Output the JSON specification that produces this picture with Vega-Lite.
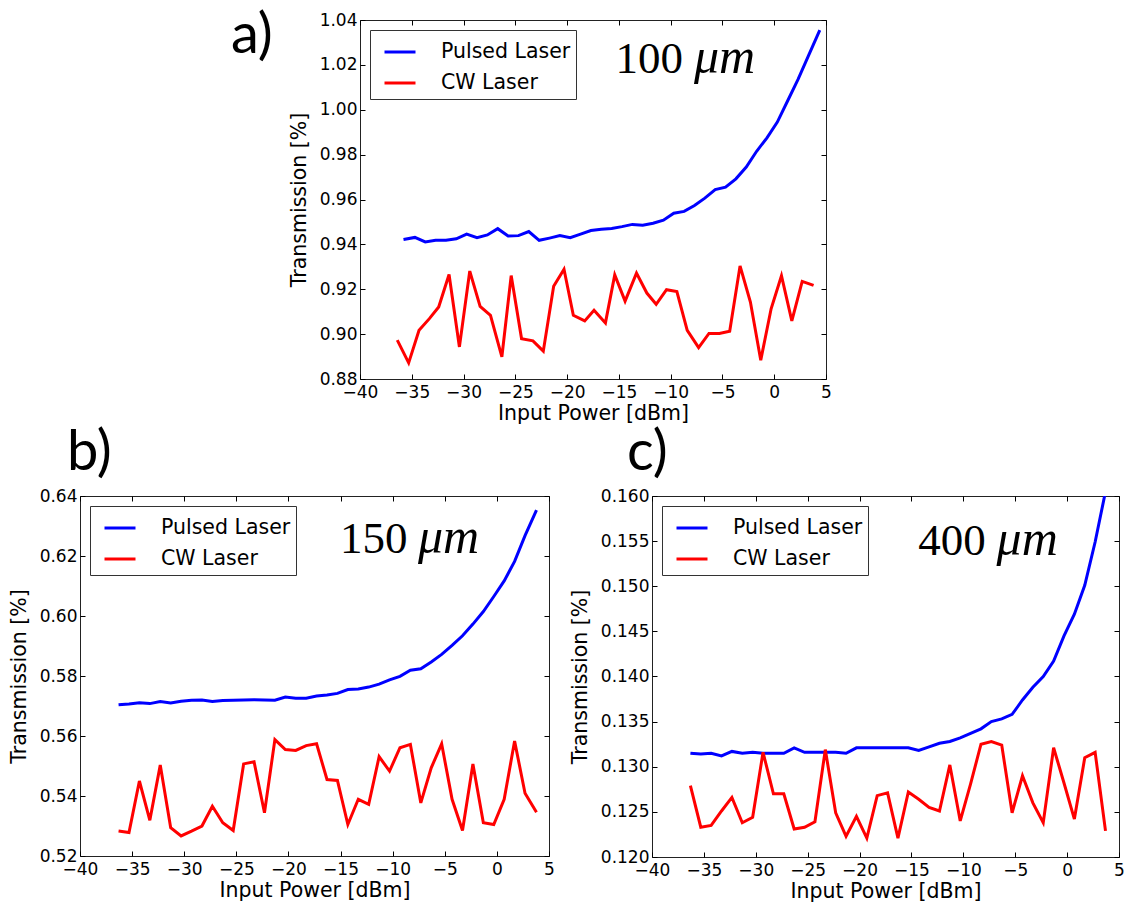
{
  "$schema": "https://vega.github.io/schema/vega-lite/v6.json",
  "padding": {"left": 8, "top": 7, "right": 0, "bottom": 0},
  "background": "white",
  "config": {
    "view": {"stroke": "#222", "strokeWidth": 1},
    "axis": {"labelFont": "DejaVu Sans", "labelFontSize": 17, "labelColor": "black", "titleFont": "DejaVu Sans", "titleFontSize": 20.5, "titleFontWeight": "normal", "titleColor": "black", "grid": false, "domain": false, "tickSize": -5, "tickColor": "black", "tickWidth": 1, "labelFlush": false, "labelOverlap": false},
    "legend": {"title": null, "orient": "none", "legendX": 10, "legendY": 10, "symbolType": "stroke", "symbolSize": 961, "symbolStrokeWidth": 3, "symbolOffset": 8, "labelFont": "DejaVu Sans", "labelFontSize": 20.5, "labelColor": "black", "labelOffset": 24, "padding": 5, "strokeColor": "#333", "fillColor": "white", "rowPadding": 3, "labelLimit": 400},
    "title": {"font": "Lato", "fontSize": 56, "fontWeight": "normal", "color": "black", "anchor": "start", "frame": "group", "baseline": "alphabetic"}
  },
  "resolve": {"scale": {"color": "independent"}, "legend": {"color": "independent"}},
  "datasets": {
    "a": [
      {"x": -35.8, "y": 0.9422, "laser": "Pulsed Laser"}, {"x": -34.7, "y": 0.9431, "laser": "Pulsed Laser"}, {"x": -33.7, "y": 0.9411, "laser": "Pulsed Laser"}, {"x": -32.7, "y": 0.9418, "laser": "Pulsed Laser"}, {"x": -31.7, "y": 0.9418, "laser": "Pulsed Laser"}, {"x": -30.7, "y": 0.9425, "laser": "Pulsed Laser"}, {"x": -29.7, "y": 0.9446, "laser": "Pulsed Laser"}, {"x": -28.7, "y": 0.943, "laser": "Pulsed Laser"}, {"x": -27.7, "y": 0.9442, "laser": "Pulsed Laser"}, {"x": -26.7, "y": 0.947, "laser": "Pulsed Laser"}, {"x": -25.7, "y": 0.9437, "laser": "Pulsed Laser"}, {"x": -24.7, "y": 0.9439, "laser": "Pulsed Laser"}, {"x": -23.7, "y": 0.9457, "laser": "Pulsed Laser"}, {"x": -22.7, "y": 0.9418, "laser": "Pulsed Laser"}, {"x": -21.7, "y": 0.9428, "laser": "Pulsed Laser"}, {"x": -20.7, "y": 0.9439, "laser": "Pulsed Laser"}, {"x": -19.7, "y": 0.943, "laser": "Pulsed Laser"}, {"x": -18.7, "y": 0.9446, "laser": "Pulsed Laser"}, {"x": -17.7, "y": 0.9462, "laser": "Pulsed Laser"}, {"x": -16.7, "y": 0.9467, "laser": "Pulsed Laser"}, {"x": -15.7, "y": 0.9471, "laser": "Pulsed Laser"}, {"x": -14.7, "y": 0.9479, "laser": "Pulsed Laser"}, {"x": -13.7, "y": 0.9489, "laser": "Pulsed Laser"}, {"x": -12.7, "y": 0.9485, "laser": "Pulsed Laser"}, {"x": -11.7, "y": 0.9494, "laser": "Pulsed Laser"}, {"x": -10.7, "y": 0.9508, "laser": "Pulsed Laser"}, {"x": -9.7, "y": 0.9539, "laser": "Pulsed Laser"}, {"x": -8.7, "y": 0.9547, "laser": "Pulsed Laser"}, {"x": -7.7, "y": 0.9573, "laser": "Pulsed Laser"}, {"x": -6.7, "y": 0.9606, "laser": "Pulsed Laser"}, {"x": -5.7, "y": 0.9644, "laser": "Pulsed Laser"}, {"x": -4.7, "y": 0.9655, "laser": "Pulsed Laser"}, {"x": -3.7, "y": 0.9692, "laser": "Pulsed Laser"}, {"x": -2.7, "y": 0.9745, "laser": "Pulsed Laser"}, {"x": -1.7, "y": 0.9815, "laser": "Pulsed Laser"}, {"x": -0.7, "y": 0.9875, "laser": "Pulsed Laser"}, {"x": 0.3, "y": 0.9945, "laser": "Pulsed Laser"}, {"x": 1.3, "y": 1.004, "laser": "Pulsed Laser"}, {"x": 2.3, "y": 1.0135, "laser": "Pulsed Laser"}, {"x": 3.3, "y": 1.024, "laser": "Pulsed Laser"}, {"x": 4.4, "y": 1.0355, "laser": "Pulsed Laser"},
      {"x": -36.4, "y": 0.8973, "laser": "CW Laser"}, {"x": -35.3, "y": 0.8872, "laser": "CW Laser"}, {"x": -34.3, "y": 0.9017, "laser": "CW Laser"}, {"x": -33.3, "y": 0.9069, "laser": "CW Laser"}, {"x": -32.4, "y": 0.9121, "laser": "CW Laser"}, {"x": -31.4, "y": 0.9266, "laser": "CW Laser"}, {"x": -30.4, "y": 0.8943, "laser": "CW Laser"}, {"x": -29.4, "y": 0.9281, "laser": "CW Laser"}, {"x": -28.4, "y": 0.9124, "laser": "CW Laser"}, {"x": -27.4, "y": 0.9084, "laser": "CW Laser"}, {"x": -26.3, "y": 0.8899, "laser": "CW Laser"}, {"x": -25.4, "y": 0.9261, "laser": "CW Laser"}, {"x": -24.4, "y": 0.898, "laser": "CW Laser"}, {"x": -23.3, "y": 0.897, "laser": "CW Laser"}, {"x": -22.3, "y": 0.8924, "laser": "CW Laser"}, {"x": -21.3, "y": 0.9213, "laser": "CW Laser"}, {"x": -20.3, "y": 0.9289, "laser": "CW Laser"}, {"x": -19.4, "y": 0.9084, "laser": "CW Laser"}, {"x": -18.3, "y": 0.9059, "laser": "CW Laser"}, {"x": -17.4, "y": 0.9106, "laser": "CW Laser"}, {"x": -16.3, "y": 0.905, "laser": "CW Laser"}, {"x": -15.4, "y": 0.9264, "laser": "CW Laser"}, {"x": -14.4, "y": 0.9147, "laser": "CW Laser"}, {"x": -13.3, "y": 0.9272, "laser": "CW Laser"}, {"x": -12.3, "y": 0.9183, "laser": "CW Laser"}, {"x": -11.4, "y": 0.9133, "laser": "CW Laser"}, {"x": -10.4, "y": 0.9198, "laser": "CW Laser"}, {"x": -9.4, "y": 0.919, "laser": "CW Laser"}, {"x": -8.4, "y": 0.9017, "laser": "CW Laser"}, {"x": -7.3, "y": 0.894, "laser": "CW Laser"}, {"x": -6.3, "y": 0.9003, "laser": "CW Laser"}, {"x": -5.3, "y": 0.9003, "laser": "CW Laser"}, {"x": -4.3, "y": 0.9013, "laser": "CW Laser"}, {"x": -3.3, "y": 0.9304, "laser": "CW Laser"}, {"x": -2.3, "y": 0.9143, "laser": "CW Laser"}, {"x": -1.3, "y": 0.8884, "laser": "CW Laser"}, {"x": -0.3, "y": 0.9113, "laser": "CW Laser"}, {"x": 0.7, "y": 0.926, "laser": "CW Laser"}, {"x": 1.7, "y": 0.9059, "laser": "CW Laser"}, {"x": 2.7, "y": 0.9235, "laser": "CW Laser"}, {"x": 3.8, "y": 0.9217, "laser": "CW Laser"}
    ],
    "b": [
      {"x": -36.3, "y": 0.5704, "laser": "Pulsed Laser"}, {"x": -35.3, "y": 0.5707, "laser": "Pulsed Laser"}, {"x": -34.3, "y": 0.5711, "laser": "Pulsed Laser"}, {"x": -33.3, "y": 0.5708, "laser": "Pulsed Laser"}, {"x": -32.3, "y": 0.5715, "laser": "Pulsed Laser"}, {"x": -31.3, "y": 0.571, "laser": "Pulsed Laser"}, {"x": -30.3, "y": 0.5716, "laser": "Pulsed Laser"}, {"x": -29.3, "y": 0.5719, "laser": "Pulsed Laser"}, {"x": -28.3, "y": 0.572, "laser": "Pulsed Laser"}, {"x": -27.3, "y": 0.5715, "laser": "Pulsed Laser"}, {"x": -26.3, "y": 0.5718, "laser": "Pulsed Laser"}, {"x": -25.3, "y": 0.5719, "laser": "Pulsed Laser"}, {"x": -24.3, "y": 0.572, "laser": "Pulsed Laser"}, {"x": -23.3, "y": 0.5721, "laser": "Pulsed Laser"}, {"x": -22.3, "y": 0.572, "laser": "Pulsed Laser"}, {"x": -21.3, "y": 0.5719, "laser": "Pulsed Laser"}, {"x": -20.3, "y": 0.573, "laser": "Pulsed Laser"}, {"x": -19.3, "y": 0.5726, "laser": "Pulsed Laser"}, {"x": -18.3, "y": 0.5726, "laser": "Pulsed Laser"}, {"x": -17.3, "y": 0.5733, "laser": "Pulsed Laser"}, {"x": -16.3, "y": 0.5737, "laser": "Pulsed Laser"}, {"x": -15.3, "y": 0.5742, "laser": "Pulsed Laser"}, {"x": -14.3, "y": 0.5755, "laser": "Pulsed Laser"}, {"x": -13.3, "y": 0.5757, "laser": "Pulsed Laser"}, {"x": -12.3, "y": 0.5763, "laser": "Pulsed Laser"}, {"x": -11.3, "y": 0.5773, "laser": "Pulsed Laser"}, {"x": -10.3, "y": 0.5787, "laser": "Pulsed Laser"}, {"x": -9.3, "y": 0.5799, "laser": "Pulsed Laser"}, {"x": -8.3, "y": 0.5819, "laser": "Pulsed Laser"}, {"x": -7.3, "y": 0.5824, "laser": "Pulsed Laser"}, {"x": -6.3, "y": 0.5847, "laser": "Pulsed Laser"}, {"x": -5.3, "y": 0.5872, "laser": "Pulsed Laser"}, {"x": -4.3, "y": 0.5902, "laser": "Pulsed Laser"}, {"x": -3.3, "y": 0.5934, "laser": "Pulsed Laser"}, {"x": -2.3, "y": 0.5973, "laser": "Pulsed Laser"}, {"x": -1.3, "y": 0.6015, "laser": "Pulsed Laser"}, {"x": -0.3, "y": 0.6065, "laser": "Pulsed Laser"}, {"x": 0.7, "y": 0.6117, "laser": "Pulsed Laser"}, {"x": 1.7, "y": 0.6182, "laser": "Pulsed Laser"}, {"x": 2.7, "y": 0.6268, "laser": "Pulsed Laser"}, {"x": 3.8, "y": 0.6353, "laser": "Pulsed Laser"},
      {"x": -36.3, "y": 0.5283, "laser": "CW Laser"}, {"x": -35.3, "y": 0.5278, "laser": "CW Laser"}, {"x": -34.3, "y": 0.545, "laser": "CW Laser"}, {"x": -33.3, "y": 0.5319, "laser": "CW Laser"}, {"x": -32.3, "y": 0.5503, "laser": "CW Laser"}, {"x": -31.3, "y": 0.5294, "laser": "CW Laser"}, {"x": -30.3, "y": 0.5267, "laser": "CW Laser"}, {"x": -29.3, "y": 0.5283, "laser": "CW Laser"}, {"x": -28.3, "y": 0.53, "laser": "CW Laser"}, {"x": -27.3, "y": 0.5366, "laser": "CW Laser"}, {"x": -26.3, "y": 0.5311, "laser": "CW Laser"}, {"x": -25.3, "y": 0.5285, "laser": "CW Laser"}, {"x": -24.3, "y": 0.5507, "laser": "CW Laser"}, {"x": -23.3, "y": 0.5514, "laser": "CW Laser"}, {"x": -22.3, "y": 0.5344, "laser": "CW Laser"}, {"x": -21.3, "y": 0.5588, "laser": "CW Laser"}, {"x": -20.3, "y": 0.5555, "laser": "CW Laser"}, {"x": -19.3, "y": 0.5552, "laser": "CW Laser"}, {"x": -18.3, "y": 0.5568, "laser": "CW Laser"}, {"x": -17.3, "y": 0.5574, "laser": "CW Laser"}, {"x": -16.3, "y": 0.5455, "laser": "CW Laser"}, {"x": -15.3, "y": 0.5452, "laser": "CW Laser"}, {"x": -14.3, "y": 0.5305, "laser": "CW Laser"}, {"x": -13.3, "y": 0.5389, "laser": "CW Laser"}, {"x": -12.3, "y": 0.5372, "laser": "CW Laser"}, {"x": -11.3, "y": 0.5531, "laser": "CW Laser"}, {"x": -10.3, "y": 0.5483, "laser": "CW Laser"}, {"x": -9.3, "y": 0.5561, "laser": "CW Laser"}, {"x": -8.3, "y": 0.5572, "laser": "CW Laser"}, {"x": -7.3, "y": 0.5377, "laser": "CW Laser"}, {"x": -6.3, "y": 0.5494, "laser": "CW Laser"}, {"x": -5.3, "y": 0.5574, "laser": "CW Laser"}, {"x": -4.3, "y": 0.5389, "laser": "CW Laser"}, {"x": -3.3, "y": 0.5285, "laser": "CW Laser"}, {"x": -2.3, "y": 0.5507, "laser": "CW Laser"}, {"x": -1.3, "y": 0.5311, "laser": "CW Laser"}, {"x": -0.3, "y": 0.5305, "laser": "CW Laser"}, {"x": 0.7, "y": 0.5389, "laser": "CW Laser"}, {"x": 1.7, "y": 0.5583, "laser": "CW Laser"}, {"x": 2.7, "y": 0.5409, "laser": "CW Laser"}, {"x": 3.8, "y": 0.5346, "laser": "CW Laser"}
    ],
    "c": [
      {"x": -36.3, "y": 0.1315, "laser": "Pulsed Laser"}, {"x": -35.3, "y": 0.1314, "laser": "Pulsed Laser"}, {"x": -34.3, "y": 0.1315, "laser": "Pulsed Laser"}, {"x": -33.3, "y": 0.1312, "laser": "Pulsed Laser"}, {"x": -32.3, "y": 0.1317, "laser": "Pulsed Laser"}, {"x": -31.3, "y": 0.1315, "laser": "Pulsed Laser"}, {"x": -30.3, "y": 0.1316, "laser": "Pulsed Laser"}, {"x": -29.3, "y": 0.1315, "laser": "Pulsed Laser"}, {"x": -28.3, "y": 0.1315, "laser": "Pulsed Laser"}, {"x": -27.3, "y": 0.1315, "laser": "Pulsed Laser"}, {"x": -26.3, "y": 0.1321, "laser": "Pulsed Laser"}, {"x": -25.3, "y": 0.1316, "laser": "Pulsed Laser"}, {"x": -24.3, "y": 0.1316, "laser": "Pulsed Laser"}, {"x": -23.3, "y": 0.1316, "laser": "Pulsed Laser"}, {"x": -22.3, "y": 0.1316, "laser": "Pulsed Laser"}, {"x": -21.3, "y": 0.1315, "laser": "Pulsed Laser"}, {"x": -20.3, "y": 0.1321, "laser": "Pulsed Laser"}, {"x": -19.3, "y": 0.1321, "laser": "Pulsed Laser"}, {"x": -18.3, "y": 0.1321, "laser": "Pulsed Laser"}, {"x": -17.3, "y": 0.1321, "laser": "Pulsed Laser"}, {"x": -16.3, "y": 0.1321, "laser": "Pulsed Laser"}, {"x": -15.3, "y": 0.1321, "laser": "Pulsed Laser"}, {"x": -14.3, "y": 0.1318, "laser": "Pulsed Laser"}, {"x": -13.3, "y": 0.1322, "laser": "Pulsed Laser"}, {"x": -12.3, "y": 0.1326, "laser": "Pulsed Laser"}, {"x": -11.3, "y": 0.1328, "laser": "Pulsed Laser"}, {"x": -10.3, "y": 0.1332, "laser": "Pulsed Laser"}, {"x": -9.3, "y": 0.1337, "laser": "Pulsed Laser"}, {"x": -8.3, "y": 0.1342, "laser": "Pulsed Laser"}, {"x": -7.3, "y": 0.135, "laser": "Pulsed Laser"}, {"x": -6.3, "y": 0.1353, "laser": "Pulsed Laser"}, {"x": -5.3, "y": 0.1358, "laser": "Pulsed Laser"}, {"x": -4.3, "y": 0.1374, "laser": "Pulsed Laser"}, {"x": -3.3, "y": 0.1388, "laser": "Pulsed Laser"}, {"x": -2.3, "y": 0.14, "laser": "Pulsed Laser"}, {"x": -1.3, "y": 0.1417, "laser": "Pulsed Laser"}, {"x": -0.3, "y": 0.1445, "laser": "Pulsed Laser"}, {"x": 0.7, "y": 0.1469, "laser": "Pulsed Laser"}, {"x": 1.7, "y": 0.1501, "laser": "Pulsed Laser"}, {"x": 2.7, "y": 0.1549, "laser": "Pulsed Laser"}, {"x": 3.7, "y": 0.1605, "laser": "Pulsed Laser"},
      {"x": -36.3, "y": 0.1279, "laser": "CW Laser"}, {"x": -35.3, "y": 0.1233, "laser": "CW Laser"}, {"x": -34.3, "y": 0.1235, "laser": "CW Laser"}, {"x": -33.3, "y": 0.1251, "laser": "CW Laser"}, {"x": -32.3, "y": 0.1266, "laser": "CW Laser"}, {"x": -31.3, "y": 0.1238, "laser": "CW Laser"}, {"x": -30.3, "y": 0.1244, "laser": "CW Laser"}, {"x": -29.3, "y": 0.1316, "laser": "CW Laser"}, {"x": -28.3, "y": 0.127, "laser": "CW Laser"}, {"x": -27.3, "y": 0.127, "laser": "CW Laser"}, {"x": -26.3, "y": 0.1231, "laser": "CW Laser"}, {"x": -25.3, "y": 0.1233, "laser": "CW Laser"}, {"x": -24.3, "y": 0.1239, "laser": "CW Laser"}, {"x": -23.3, "y": 0.1319, "laser": "CW Laser"}, {"x": -22.3, "y": 0.1249, "laser": "CW Laser"}, {"x": -21.3, "y": 0.1223, "laser": "CW Laser"}, {"x": -20.3, "y": 0.1245, "laser": "CW Laser"}, {"x": -19.3, "y": 0.1221, "laser": "CW Laser"}, {"x": -18.3, "y": 0.1268, "laser": "CW Laser"}, {"x": -17.3, "y": 0.1271, "laser": "CW Laser"}, {"x": -16.3, "y": 0.1221, "laser": "CW Laser"}, {"x": -15.3, "y": 0.1272, "laser": "CW Laser"}, {"x": -14.3, "y": 0.1264, "laser": "CW Laser"}, {"x": -13.3, "y": 0.1255, "laser": "CW Laser"}, {"x": -12.3, "y": 0.1251, "laser": "CW Laser"}, {"x": -11.3, "y": 0.1302, "laser": "CW Laser"}, {"x": -10.3, "y": 0.124, "laser": "CW Laser"}, {"x": -9.3, "y": 0.1281, "laser": "CW Laser"}, {"x": -8.3, "y": 0.1325, "laser": "CW Laser"}, {"x": -7.3, "y": 0.1328, "laser": "CW Laser"}, {"x": -6.3, "y": 0.1324, "laser": "CW Laser"}, {"x": -5.3, "y": 0.1249, "laser": "CW Laser"}, {"x": -4.3, "y": 0.129, "laser": "CW Laser"}, {"x": -3.3, "y": 0.126, "laser": "CW Laser"}, {"x": -2.3, "y": 0.1238, "laser": "CW Laser"}, {"x": -1.3, "y": 0.1321, "laser": "CW Laser"}, {"x": -0.3, "y": 0.1282, "laser": "CW Laser"}, {"x": 0.7, "y": 0.1242, "laser": "CW Laser"}, {"x": 1.7, "y": 0.131, "laser": "CW Laser"}, {"x": 2.7, "y": 0.1316, "laser": "CW Laser"}, {"x": 3.7, "y": 0.1229, "laser": "CW Laser"}
    ]
  },
  "spacing": 0,
  "vconcat": [
    {
      "spacing": 0,
      "resolve": {"scale": {"color": "independent"}, "legend": {"color": "independent"}},
      "hconcat": [
        {"width": 150, "height": 1, "data": {"values": [{}]}, "mark": {"type": "text", "text": ""}, "encoding": {}, "view": {"stroke": null, "fill": "white"}},
        {
          "width": 466, "height": 359,
          "title": {"text": "a)", "dx": -129, "offset": -54},
          "data": {"name": "a"},
          "resolve": {"axis": {"x": "independent", "y": "independent"}},
          "layer": [
            {"mark": {"type": "line", "strokeWidth": 3, "clip": true},
             "encoding": {
               "x": {"field": "x", "type": "quantitative", "scale": {"domain": [-40, 5], "nice": false, "zero": false}, "axis": {"orient": "bottom", "values": [-40, -35, -30, -25, -20, -15, -10, -5, 0, 5], "labelPadding": 10, "title": "Input Power [dBm]", "titlePadding": 3}},
               "y": {"field": "y", "type": "quantitative", "scale": {"domain": [0.88, 1.04], "nice": false, "zero": false}, "axis": {"orient": "left", "values": [0.88, 0.9, 0.92, 0.94, 0.96, 0.98, 1.0, 1.02, 1.04], "format": ".2f", "labelPadding": 8, "title": "Transmission [%]", "titlePadding": 10}},
               "color": {"field": "laser", "type": "nominal", "scale": {"domain": ["Pulsed Laser", "CW Laser"], "range": ["#0000ff", "#ff0000"]}}
             }},
            {"data": {"values": [{}]},
             "mark": {"type": "text", "text": "100", "align": "right", "baseline": "alphabetic", "font": "Liberation Serif", "fontSize": 45, "color": "black"},
             "encoding": {
               "x": {"datum": -8.8, "type": "quantitative", "scale": {"domain": [-40, 5], "nice": false, "zero": false}, "axis": {"orient": "top", "values": [-40, -35, -30, -25, -20, -15, -10, -5, 0, 5], "labels": false, "title": null}},
               "y": {"datum": 1.0165, "type": "quantitative", "scale": {"domain": [0.88, 1.04], "nice": false, "zero": false}, "axis": {"orient": "right", "values": [0.88, 0.9, 0.92, 0.94, 0.96, 0.98, 1.0, 1.02, 1.04], "labels": false, "title": null}}
             }},
            {"data": {"values": [{}]},
             "mark": {"type": "text", "text": "μm", "align": "left", "baseline": "alphabetic", "font": "Liberation Serif", "fontStyle": "italic", "fontSize": 50, "color": "black"},
             "encoding": {
               "x": {"datum": -7.75, "type": "quantitative", "axis": null},
               "y": {"datum": 1.0165, "type": "quantitative", "axis": null}
             }}
          ]
        }
      ]
    },
    {
      "spacing": 14,
      "resolve": {"scale": {"color": "independent"}, "legend": {"color": "independent"}},
      "hconcat": [
        {
          "width": 469, "height": 360,
          "title": {"text": "b)", "dx": -13, "offset": 5},
          "data": {"name": "b"},
          "resolve": {"axis": {"x": "independent", "y": "independent"}},
          "layer": [
            {"mark": {"type": "line", "strokeWidth": 3, "clip": true},
             "encoding": {
               "x": {"field": "x", "type": "quantitative", "scale": {"domain": [-40, 5], "nice": false, "zero": false}, "axis": {"orient": "bottom", "values": [-40, -35, -30, -25, -20, -15, -10, -5, 0, 5], "labelPadding": 10, "title": "Input Power [dBm]", "titlePadding": 3}},
               "y": {"field": "y", "type": "quantitative", "scale": {"domain": [0.52, 0.64], "nice": false, "zero": false}, "axis": {"orient": "left", "values": [0.52, 0.54, 0.56, 0.58, 0.6, 0.62, 0.64], "format": ".2f", "labelPadding": 8, "title": "Transmission [%]", "titlePadding": 10}},
               "color": {"field": "laser", "type": "nominal", "scale": {"domain": ["Pulsed Laser", "CW Laser"], "range": ["#0000ff", "#ff0000"]}}
             }},
            {"data": {"values": [{}]},
             "mark": {"type": "text", "text": "150", "align": "right", "baseline": "alphabetic", "font": "Liberation Serif", "fontSize": 45, "color": "black"},
             "encoding": {
               "x": {"datum": -8.57, "type": "quantitative", "scale": {"domain": [-40, 5], "nice": false, "zero": false}, "axis": {"orient": "top", "values": [-40, -35, -30, -25, -20, -15, -10, -5, 0, 5], "labels": false, "title": null}},
               "y": {"datum": 0.6211, "type": "quantitative", "scale": {"domain": [0.52, 0.64], "nice": false, "zero": false}, "axis": {"orient": "right", "values": [0.52, 0.54, 0.56, 0.58, 0.6, 0.62, 0.64], "labels": false, "title": null}}
             }},
            {"data": {"values": [{}]},
             "mark": {"type": "text", "text": "μm", "align": "left", "baseline": "alphabetic", "font": "Liberation Serif", "fontStyle": "italic", "fontSize": 50, "color": "black"},
             "encoding": {
               "x": {"datum": -7.57, "type": "quantitative", "axis": null},
               "y": {"datum": 0.6211, "type": "quantitative", "axis": null}
             }}
          ]
        },
        {
          "width": 467, "height": 361,
          "title": {"text": "c)", "dx": -25, "offset": 5},
          "data": {"name": "c"},
          "resolve": {"axis": {"x": "independent", "y": "independent"}},
          "layer": [
            {"mark": {"type": "line", "strokeWidth": 3, "clip": true},
             "encoding": {
               "x": {"field": "x", "type": "quantitative", "scale": {"domain": [-40, 5], "nice": false, "zero": false}, "axis": {"orient": "bottom", "values": [-40, -35, -30, -25, -20, -15, -10, -5, 0, 5], "labelPadding": 10, "title": "Input Power [dBm]", "titlePadding": 3}},
               "y": {"field": "y", "type": "quantitative", "scale": {"domain": [0.12, 0.16], "nice": false, "zero": false}, "axis": {"orient": "left", "values": [0.12, 0.125, 0.13, 0.135, 0.14, 0.145, 0.15, 0.155, 0.16], "format": ".3f", "labelPadding": 8, "title": "Transmission [%]", "titlePadding": 10}},
               "color": {"field": "laser", "type": "nominal", "scale": {"domain": ["Pulsed Laser", "CW Laser"], "range": ["#0000ff", "#ff0000"]}}
             }},
            {"data": {"values": [{}]},
             "mark": {"type": "text", "text": "400", "align": "right", "baseline": "alphabetic", "font": "Liberation Serif", "fontSize": 45, "color": "black"},
             "encoding": {
               "x": {"datum": -7.85, "type": "quantitative", "scale": {"domain": [-40, 5], "nice": false, "zero": false}, "axis": {"orient": "top", "values": [-40, -35, -30, -25, -20, -15, -10, -5, 0, 5], "labels": false, "title": null}},
               "y": {"datum": 0.1535, "type": "quantitative", "scale": {"domain": [0.12, 0.16], "nice": false, "zero": false}, "axis": {"orient": "right", "values": [0.12, 0.125, 0.13, 0.135, 0.14, 0.145, 0.15, 0.155, 0.16], "labels": false, "title": null}}
             }},
            {"data": {"values": [{}]},
             "mark": {"type": "text", "text": "μm", "align": "left", "baseline": "alphabetic", "font": "Liberation Serif", "fontStyle": "italic", "fontSize": 50, "color": "black"},
             "encoding": {
               "x": {"datum": -6.8, "type": "quantitative", "axis": null},
               "y": {"datum": 0.1535, "type": "quantitative", "axis": null}
             }}
          ]
        }
      ]
    }
  ]
}
